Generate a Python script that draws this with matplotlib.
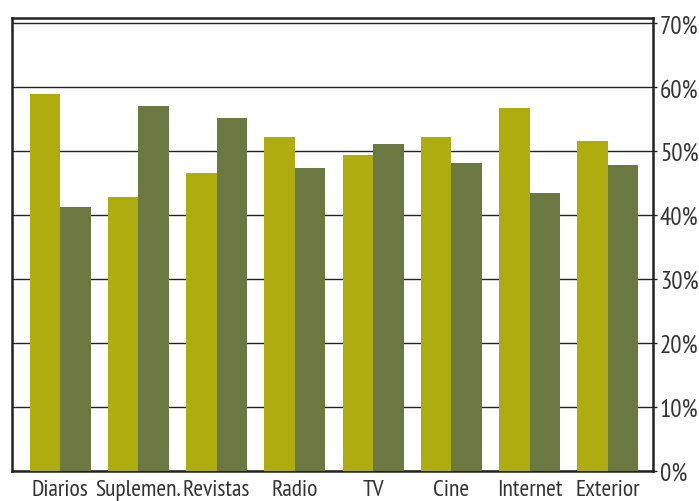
import matplotlib
matplotlib.use("Agg")
import matplotlib.pyplot as plt
import numpy as np

# ---- DATA ----
categories = ["Diarios", "Suplemen.", "Revistas", "Radio", "TV", "Cine", "Internet", "Exterior"]
serie_a = [58.9, 42.8, 46.6, 52.2, 49.4, 52.2, 56.7, 51.6]
serie_b = [41.2, 57.0, 55.2, 47.3, 51.1, 48.1, 43.4, 47.8]
y_ticks = [0, 10, 20, 30, 40, 50, 60, 70]
y_labels = ["0%", "10%", "20%", "30%", "40%", "50%", "60%", "70%"]

COL_A = "#aeac0e"
COL_B = "#6b7841"
TXT = "#333333"

plt.rcParams["font.family"] = ["PT Sans Narrow", "DejaVu Sans"]

fig = plt.figure(figsize=(6.99, 5.02), dpi=100)
ax = fig.add_axes([0.0172, 0.0598, 0.9170, 0.9022])

x = np.arange(len(categories))
w = 0.39
ax.bar(x - w / 2, serie_a, width=w, color=COL_A, zorder=3)
ax.bar(x + w / 2, serie_b, width=w, color=COL_B, zorder=3)

ax.set_xlim(-0.615, 7.576)
ax.set_ylim(0, 70.8)

# grid
ax.yaxis.grid(True, color="#222222", linewidth=1.0, zorder=1)
ax.set_axisbelow(True)

ax.yaxis.tick_right()
ax.set_yticks(y_ticks)
ax.set_yticklabels(y_labels)
ax.tick_params(axis="y", direction="out", length=3, width=1, color="#222222",
               labelsize=18, labelcolor=TXT, pad=2)

ax.set_xticks(x)
ax.set_xticklabels(categories)
ax.tick_params(axis="x", length=0, labelsize=17, labelcolor=TXT, pad=6)

for s in ax.spines.values():
    s.set_color("#222222")
    s.set_linewidth(1.8)

fig.savefig("out.png", dpi=100)
